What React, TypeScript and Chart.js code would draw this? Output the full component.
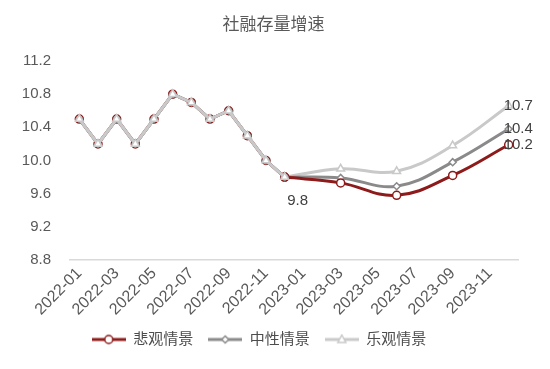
import React, { useEffect, useRef } from "react";
import { Chart, registerables } from "chart.js";

Chart.register(...registerables);

const months = [
  "2022-01","2022-02","2022-03","2022-04","2022-05","2022-06","2022-07","2022-08","2022-09","2022-10","2022-11","2022-12",
  "2023-01","2023-02","2023-03","2023-04","2023-05","2023-06","2023-07","2023-08","2023-09","2023-10","2023-11","2023-12",
];
const history = [10.5, 10.2, 10.5, 10.2, 10.5, 10.8, 10.7, 10.5, 10.6, 10.3, 10.0, 9.8];
// forecast points at 2022-12, 2023-03, 2023-06, 2023-09, 2023-12
const forecastMonths = ["2022-12", "2023-03", "2023-06", "2023-09", "2023-12"];
const pessimistic = [9.8, 9.73, 9.58, 9.82, 10.19];
const neutral = [9.8, 9.79, 9.69, 9.98, 10.38];
const optimistic = [9.8, 9.9, 9.87, 10.18, 10.66];
const seriesNames = ["悲观情景", "中性情景", "乐观情景"];
const yTicks = [8.8, 9.2, 9.6, 10.0, 10.4, 10.8, 11.2];
const titleText = "社融存量增速";

const colors = ["#8e1b1b", "#8a8a8a", "#c9c9c9"];
const styles = ["circle", "rectRot", "triangle"];
const radii = [4, 3.5, 4.5];
const FONT = "'Liberation Sans', 'Noto Sans CJK SC', sans-serif";

function fullSeries(vals: number[]) {
  return months.map((m) => {
    const i = forecastMonths.indexOf(m);
    return i >= 0 ? vals[i] : null;
  });
}
function histSeries() {
  return months.map((_, i) => (i < history.length ? history[i] : null));
}

function legendImage(idx: number) {
  const c = document.createElement("canvas");
  c.width = 34;
  c.height = 12;
  const ctx = c.getContext("2d")!;
  ctx.strokeStyle = colors[idx];
  ctx.lineWidth = 3;
  ctx.beginPath();
  ctx.moveTo(0, 6);
  ctx.lineTo(34, 6);
  ctx.stroke();
  ctx.fillStyle = "#fff";
  ctx.lineWidth = 1.5;
  ctx.beginPath();
  if (idx === 0) {
    ctx.arc(17, 6, 4, 0, Math.PI * 2);
  } else if (idx === 1) {
    ctx.moveTo(17, 2.5); ctx.lineTo(20.5, 6); ctx.lineTo(17, 9.5); ctx.lineTo(13.5, 6); ctx.closePath();
  } else {
    ctx.moveTo(17, 1.5); ctx.lineTo(21, 9); ctx.lineTo(13, 9); ctx.closePath();
  }
  ctx.fill();
  ctx.stroke();
  return c;
}

export default function App() {
  const ref = useRef<HTMLCanvasElement>(null);
  useEffect(() => {
    if (!ref.current) return;
    const forecasts = [pessimistic, neutral, optimistic];
    const datasets: any[] = [];
    [0, 1, 2].forEach((i) => {
      datasets.push({
        label: seriesNames[i],
        data: histSeries(),
        borderColor: colors[i],
        backgroundColor: "#ffffff",
        borderWidth: 3,
        pointStyle: styles[i],
        pointRadius: radii[i],
        pointBorderWidth: 1.5,
        pointBorderColor: colors[i],
        pointBackgroundColor: "#ffffff",
        tension: 0,
        spanGaps: false,
        order: 3 - i,
      });
    });
    [0, 1, 2].forEach((i) => {
      datasets.push({
        label: seriesNames[i] + "预测",
        data: fullSeries(forecasts[i]),
        borderColor: colors[i],
        backgroundColor: "#ffffff",
        borderWidth: 3,
        pointStyle: styles[i],
        pointRadius: radii[i],
        pointBorderWidth: 1.5,
        pointBorderColor: colors[i],
        pointBackgroundColor: "#ffffff",
        tension: 0.4,
        spanGaps: true,
        order: 4 + i,
      });
    });

    const labelPlugin = {
      id: "valueLabels",
      afterDatasetsDraw(chart: any) {
        const ctx = chart.ctx;
        const xs = chart.scales.x;
        const ys = chart.scales.y;
        ctx.save();
        ctx.font = `15px ${FONT}`;
        ctx.fillStyle = "#404040";
        ctx.textBaseline = "middle";
        const lastIdx = months.length - 1;
        forecasts.forEach((f) => {
          const v = f[f.length - 1];
          ctx.textAlign = "left";
          ctx.fillText(v.toFixed(1), xs.getPixelForValue(lastIdx) - 5, ys.getPixelForValue(v));
        });
        const hi = history.length - 1;
        ctx.textAlign = "center";
        ctx.fillText(history[hi].toFixed(1), xs.getPixelForValue(hi) + 13, ys.getPixelForValue(history[hi]) + 24);
        // title
        ctx.font = `17px ${FONT}`;
        ctx.fillStyle = "#595959";
        ctx.textAlign = "center";
        ctx.fillText(titleText, 273.5, 25);
        ctx.restore();
      },
    };

    const chart = new Chart(ref.current, {
      type: "line",
      data: { labels: months, datasets },
      plugins: [labelPlugin],
      options: {
        animation: false,
        responsive: false,
        maintainAspectRatio: false,
        layout: { padding: { left: 0, right: 32, top: 61, bottom: 12 } },
        plugins: {
          tooltip: { enabled: false },
          title: { display: false },
          legend: {
            position: "bottom",
            labels: {
              usePointStyle: true,
              pointStyleWidth: 34,
              padding: 15,
              color: "#4d4d4d",
              font: { family: FONT, size: 15 },
              generateLabels: () =>
                [0, 1, 2].map((i) => ({
                  text: seriesNames[i],
                  pointStyle: legendImage(i) as any,
                  fillStyle: colors[i],
                  strokeStyle: colors[i],
                  lineWidth: 0,
                  hidden: false,
                  datasetIndex: i,
                  fontColor: "#4d4d4d",
                })),
            },
          },
        },
        scales: {
          x: {
            offset: true,
            grid: { display: false, drawTicks: false },
            border: { display: true, color: "#d9d9d9", width: 1.5 },
            afterFit: (s: any) => { s.height = 57; },
            ticks: {
              autoSkip: false,
              maxRotation: 45,
              minRotation: 45,
              color: "#595959",
              font: { family: FONT, size: 16 },
              padding: 4,
              callback: (_v: any, i: number) => (i % 2 === 0 ? months[i] : ""),
            },
          },
          y: {
            min: yTicks[0],
            max: yTicks[yTicks.length - 1],
            grid: { display: false, drawTicks: false },
            border: { display: false },
            afterFit: (s: any) => { s.width = 70; },
            afterBuildTicks: (s: any) => { s.ticks = yTicks.map((v) => ({ value: v })); },
            ticks: {
              padding: 19,
              color: "#595959",
              font: { family: FONT, size: 15 },
              callback: (v: any) => Number(v).toFixed(1),
            },
          },
        },
      },
    });
    return () => chart.destroy();
  }, []);

  return (
    <div style={{ position: "absolute", left: 0, top: 0, width: 550, height: 369, background: "#ffffff" }}>
      <canvas ref={ref} width={550} height={369} />
    </div>
  );
}
